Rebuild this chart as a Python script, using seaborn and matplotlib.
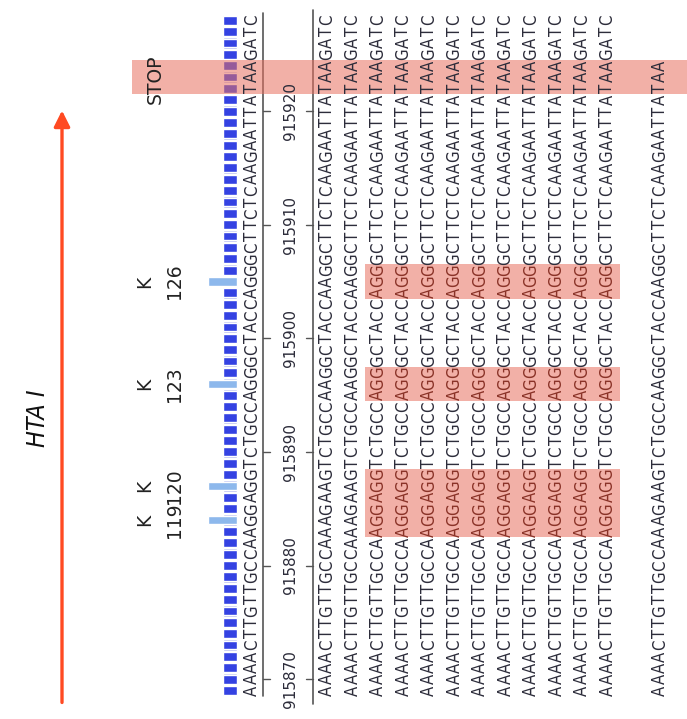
import matplotlib
matplotlib.use("Agg")
import matplotlib.pyplot as plt
from matplotlib.patches import Rectangle
import seaborn as sns

# --- data -------------------------------------------------------------
start_pos = 915869                      # genomic position of first base
ref_seq = "AAAACTTGTTGCCAAGGAGGTCTGCCAGGGCTACCAGGGCTTCTCAAGAATTATAAGATC"
wt_seq = "AAAACTTGTTGCCAAAGAAGTCTGCCAAGGCTACCAAGGCTTCTCAAGAATTATAAGATC"
wt_short = "AAAACTTGTTGCCAAAGAAGTCTGCCAAGGCTACCAAGGCTTCTCAAGAATTATAA"
reads = [wt_seq, wt_seq] + [ref_seq] * 10 + [None, wt_short]   # None = empty lane
mutant_reads = [False, False] + [True] * 10 + [False, False]
tick_positions = [915870, 915880, 915890, 915900, 915910, 915920]
lys_names = ["K", "K", "K", "K"]
lys_numbers = ["119", "120", "123", "126"]
lys_codon_start = [915883, 915886, 915895, 915904]
stop_codon_start = 915922

# --- style ------------------------------------------------------------
sns.set_theme(style="white")
plt.rcParams["font.family"] = ["DejaVu Sans"]
text_col = "#2c2c3a"
hl_col = "#e8705f"
blue = "#3442e2"
light_blue = "#8db8ec"
arrow_col = "#ff4a22"
seq_font = dict(fontsize=12, fontstretch="condensed")

fig = plt.figure(figsize=(6.87, 7.19), dpi=100)
ax = fig.add_axes([0, 0, 1, 1])
ax.set_xlim(0, 687)
ax.set_ylim(915866.49, 915929.78)
ax.axis("off")

positions = [start_pos + i for i in range(len(ref_seq))]

# identity track: mismatching columns get a light bar
mismatch = []
for i, p in enumerate(positions):
    diff = any(r is not None and i < len(r) and r[i] != ref_seq[i] for r in reads)
    mismatch.append(diff)
ok_pos = [p for p, m in zip(positions, mismatch) if not m]
bad_pos = [p for p, m in zip(positions, mismatch) if m]
ax.barh(positions, 14, left=223, height=1.0, color="#b4b8f0", zorder=1)
ax.barh(ok_pos, 14, left=223, height=0.78, color=blue, zorder=1.5)
ax.barh(bad_pos, 29, left=208, height=0.72, color=light_blue, zorder=1.5)

# reference sequence + ruler
for p, ch in zip(positions, ref_seq):
    ax.text(252, p, ch, rotation=90, ha="center", va="center",
            color=text_col, zorder=3, **seq_font)
ax.plot([263, 263], [positions[0] - 0.5, positions[-1] + 0.6], color="#555555", lw=1.2)
ax.plot([313, 313], [positions[0] - 1.2, positions[-1] + 0.9], color="#555555", lw=1.2)
for t in tick_positions:
    ax.plot([263, 270], [t, t], color="#555555", lw=1)
    ax.plot([306, 313], [t, t], color="#555555", lw=1)
    ax.text(290, t, str(t), rotation=90, ha="center", va="center",
            fontsize=11, color=text_col)

# reads
lane_x = [327 + 25.5 * k for k in range(len(reads))]
lane_x[-1] = 660
for x, r, is_mut in zip(lane_x, reads, mutant_reads):
    if r is None:
        continue
    for i, ch in enumerate(r):
        p = start_pos + i
        in_hl = is_mut and any(c <= p <= c + 2 for c in lys_codon_start)
        ax.text(x, p, ch, rotation=90, ha="center", va="center",
                color="#8a3328" if in_hl else text_col, zorder=3, **seq_font)

# highlights over mutated lysine codons (mutant lanes only)
mut_x = [x for x, m in zip(lane_x, mutant_reads) if m]
for c in lys_codon_start:
    ax.add_patch(Rectangle((mut_x[0] - 12.75, c - 0.5), mut_x[-1] - mut_x[0] + 25.5, 3,
                           color=hl_col, alpha=0.55, lw=0, zorder=2))
# stop codon band
ax.add_patch(Rectangle((132, stop_codon_start - 0.5), 687 - 132, 3,
                       color=hl_col, alpha=0.55, lw=0, zorder=2))
ax.text(155, stop_codon_start + 0.8, "STOP", rotation=90, ha="center", va="center",
        fontsize=13.5, color="#222222", zorder=3)

# lysine labels
for name, num, c in zip(lys_names, lys_numbers, lys_codon_start):
    ax.text(145, c + 1, name, rotation=90, ha="center", va="center",
            fontsize=13.5, color="#222222")
    ax.text(175, c + 1, num, rotation=90, ha="center", va="center",
            fontsize=13.5, color="#222222")

# gene direction arrow and label
ax.annotate("", xy=(62, 915920.3), xytext=(62, 915867.7),
            arrowprops=dict(arrowstyle="-|>", color=arrow_col, lw=2.4,
                            mutation_scale=24))
ax.text(38, 915893.0, "HTA I", rotation=90, ha="center", va="center",
        fontsize=18, style="italic", fontstretch="condensed", color="#111111")

fig.savefig("out.png", dpi=100)
